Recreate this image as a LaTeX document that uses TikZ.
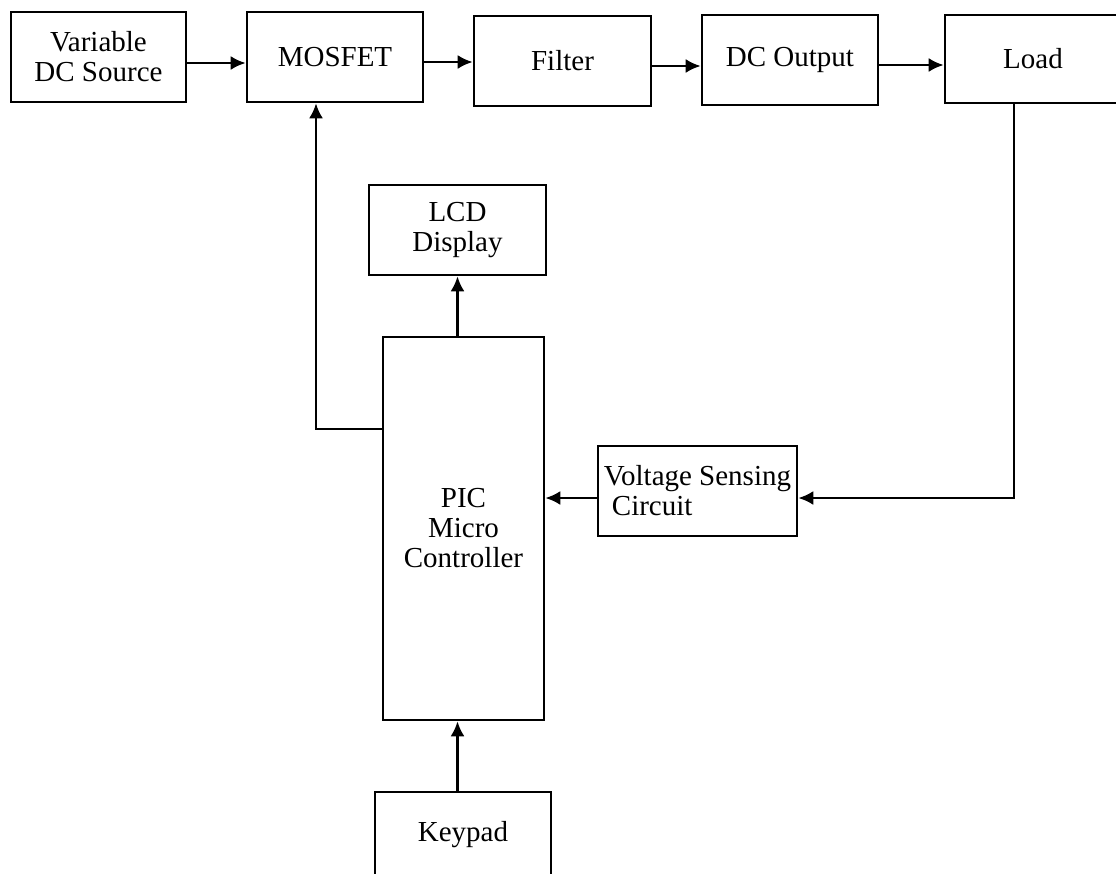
\documentclass[tikz,border=0pt]{standalone}
\usepackage{fontspec}
\setmainfont{Liberation Serif}
\usetikzlibrary{arrows.meta,calc}
\begin{document}
\begin{tikzpicture}[x=0.5pt,y=-0.5pt]
			% Styles
			\tikzstyle{bloc}=[draw,line width=1.3pt,inner sep=0pt,align=center,font=\fontsize{14.5pt}{15pt}\selectfont]
			\tikzstyle{fleche}=[-{Latex[length=7.5pt,width=7pt]},line width=1.3pt]
			% Dimensions
			\def\U{0.5pt}
			\def\Hauteur{90}
			% Cadre
			\useasboundingbox (0,0) rectangle (1116,874);
			% Noeuds
			\node[bloc,minimum width={175*\U},minimum height={\Hauteur*\U}] (vdc) at (98.5,57) {Variable\\DC Source};
			\node[bloc,minimum width={176*\U},minimum height={\Hauteur*\U}] (mosfet) at (335,57) {MOSFET};
			\node[bloc,minimum width={177*\U},minimum height={\Hauteur*\U}] (filtre) at (562.5,61) {Filter};
			\node[bloc,minimum width={176*\U},minimum height={\Hauteur*\U}] (sortie) at (790,60) {DC Output};
			\node[bloc,minimum width={176*\U},minimum height={88*\U}] (charge) at (1033,59) {Load};
			\node[bloc,minimum width={177*\U},minimum height={\Hauteur*\U}] (lcd) at (457.5,230) {LCD\\Display};
			\node[bloc,minimum width={161*\U},minimum height={383*\U}] (pic) at (463.5,528.5) {PIC\\Micro\\Controller};
			\node[bloc,minimum width={199*\U},minimum height={\Hauteur*\U},align=left] (capteur) at (697.5,491) {Voltage Sensing\\\hspace{4pt}Circuit};
			\node[bloc,minimum width={176*\U},minimum height={86*\U}] (clavier) at (463,835) {Keypad};
			% Points de passage
			\coordinate (t1) at ($(vdc.east)+(0,6)$);
			\coordinate (t2) at ($(mosfet.east)+(0,5)$);
			\coordinate (t3) at ($(filtre.east)+(0,5)$);
			\coordinate (t4) at ($(sortie.east)+(0,5)$);
			\coordinate (coude) at (316,429);
			\coordinate (retour) at (1014,498);
			% Liaisons
			\draw[fleche] (t1)--(t1 -| mosfet.west);
			\draw[fleche] (t2)--(t2 -| filtre.west);
			\draw[fleche] (t3)--(t3 -| sortie.west);
			\draw[fleche] (t4)--(t4 -| charge.west);
			\draw[fleche] (lcd.south |- pic.north)--(lcd.south);
			\draw[fleche] (clavier.north -| lcd.south)--(pic.south -| lcd.south);
			\draw[fleche] (coude -| pic.west)--(coude)--(coude |- mosfet.south);
			\draw[fleche] (retour |- charge.south)--(retour)--(retour -| capteur.east);
			\draw[fleche] (retour -| capteur.west)--(retour -| pic.east);
		\end{tikzpicture}
\end{document}
